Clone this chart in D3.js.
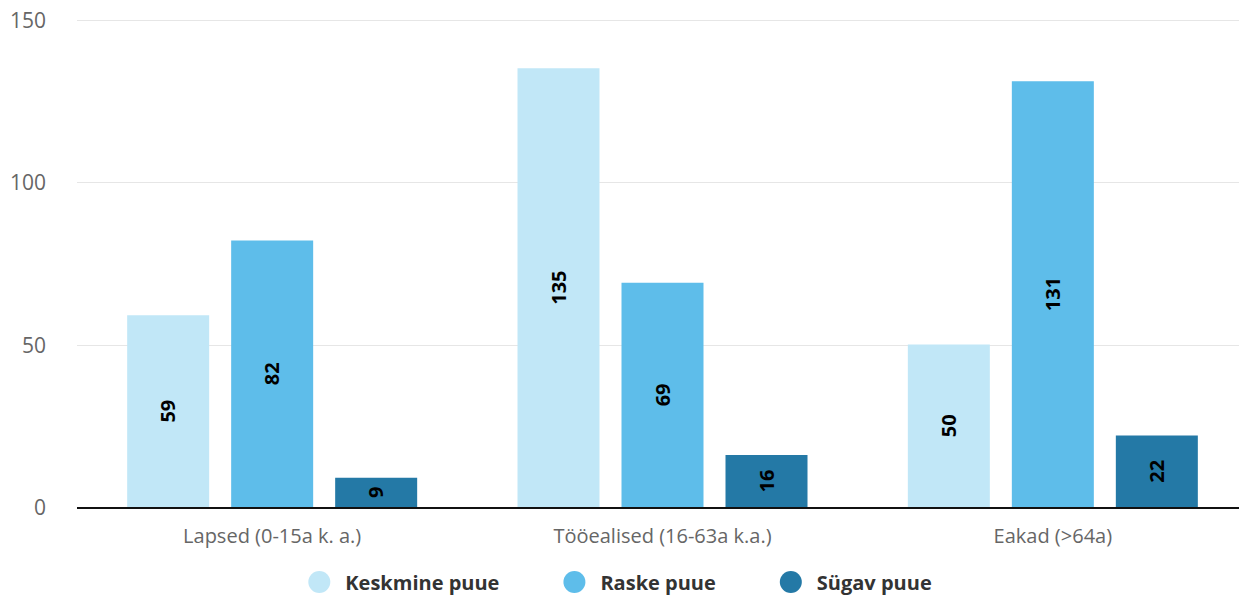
<!DOCTYPE html>
<html>
<head>
<meta charset="utf-8">
<script src="https://cdn.jsdelivr.net/npm/d3@7"></script>
<style>
  body { margin: 0; background: #fff; }
  svg { display: block; font-family: "Open Sans", "Noto Sans", sans-serif; }
</style>
</head>
<body>
<script>
var categories = ['Lapsed (0-15a k. a.)', 'Tööealised (16-63a k.a.)', 'Eakad (>64a)'];
var seriesNames = ['Keskmine puue', 'Raske puue', 'Sügav puue'];
var keskmine = [59, 135, 50];
var raske = [82, 69, 131];
var sugav = [9, 16, 22];
var yTicks = [0, 50, 100, 150];
var colors = ['#c1e7f7', '#5ebdea', '#2479a6'];

var width = 1239, height = 596;
var plotLeft = 77, plotRight = 1248, plotTop = 19.5, plotBottom = 507;

var seriesValues = [keskmine, raske, sugav];

var svg = d3.select('body').append('svg')
	.attr('width', width)
	.attr('height', height);

var yScale = d3.scaleLinear()
	.domain([0, 150])
	.range([plotBottom, plotTop]);

var xScale = d3.scaleBand()
	.domain(categories)
	.range([plotLeft, plotRight]);

// bars inside one category: 82px wide, 22px apart
var inner = d3.scaleBand()
	.domain(seriesNames)
	.range([-145, 145])
	.paddingInner(22 / 104)
	.paddingOuter(0);

// grid
svg.append('g')
	.selectAll('line')
	.data(yTicks.filter(function(d){ return d > 0 }))
	.enter().append('line')
		.attr('x1', plotLeft)
		.attr('x2', width)
		.attr('y1', function(d){ return Math.round(yScale(d)) + 0.5 })
		.attr('y2', function(d){ return Math.round(yScale(d)) + 0.5 })
		.attr('stroke', '#e6e6e6')
		.attr('stroke-width', 1);

// y labels
svg.append('g')
	.selectAll('text')
	.data(yTicks)
	.enter().append('text')
		.attr('x', 46)
		.attr('y', function(d){ return yScale(d) + 8 })
		.attr('text-anchor', 'end')
		.style('font-size', '21px')
		.style('fill', '#666')
		.text(function(d){ return d });

// bars
var groups = svg.append('g')
	.selectAll('g')
	.data(categories)
	.enter().append('g')
		.attr('transform', function(d){ return 'translate(' + (xScale(d) + xScale.bandwidth() / 2) + ',0)' });

var barData = function(c, i) {
	return seriesNames.map(function(s, j){
		return { name: s, value: seriesValues[j][i], color: colors[j] };
	});
};

groups.selectAll('rect')
	.data(barData)
	.enter().append('rect')
		.attr('x', function(d){ return inner(d.name) })
		.attr('width', inner.bandwidth())
		.attr('y', function(d){ return yScale(d.value) })
		.attr('height', function(d){ return plotBottom - yScale(d.value) })
		.style('fill', function(d){ return d.color });

groups.selectAll('text')
	.data(barData)
	.enter().append('text')
		.attr('transform', function(d){
			var cx = inner(d.name) + inner.bandwidth() / 2;
			var cy = (yScale(d.value) + plotBottom) / 2;
			return 'translate(' + (cx + 7) + ',' + cy + ') rotate(-90)';
		})
		.attr('text-anchor', 'middle')
		.style('font-size', '20px')
		.style('font-weight', 'bold')
		.style('fill', '#000')
		.text(function(d){ return d.value });

// x axis line
svg.append('line')
	.attr('x1', plotLeft)
	.attr('x2', width)
	.attr('y1', plotBottom + 1)
	.attr('y2', plotBottom + 1)
	.attr('stroke', '#111')
	.attr('stroke-width', 2);

// x labels
svg.append('g')
	.selectAll('text')
	.data(categories)
	.enter().append('text')
		.attr('x', function(d){ return xScale(d) + xScale.bandwidth() / 2 })
		.attr('y', 543)
		.attr('text-anchor', 'middle')
		.style('font-size', '20px')
		.style('fill', '#666')
		.text(function(d){ return d });

// legend
var legend = svg.append('g');
var items = legend.selectAll('g')
	.data(seriesNames)
	.enter().append('g');

items.append('circle')
	.attr('r', 11)
	.attr('cx', 11)
	.attr('cy', 582)
	.style('fill', function(d, i){ return colors[i] });

items.append('text')
	.attr('x', 37)
	.attr('y', 590)
	.style('font-size', '20px')
	.style('font-weight', 'bold')
	.style('fill', '#333')
	.text(function(d){ return d });

var xPos = 0;
items.each(function(){
	var w = this.getBBox().width;
	d3.select(this).attr('transform', 'translate(' + xPos + ',0)');
	xPos += w + 64;
});
var legendWidth = xPos - 64;
legend.attr('transform', 'translate(' + (620 - legendWidth / 2) + ',0)');
</script>
</body>
</html>
